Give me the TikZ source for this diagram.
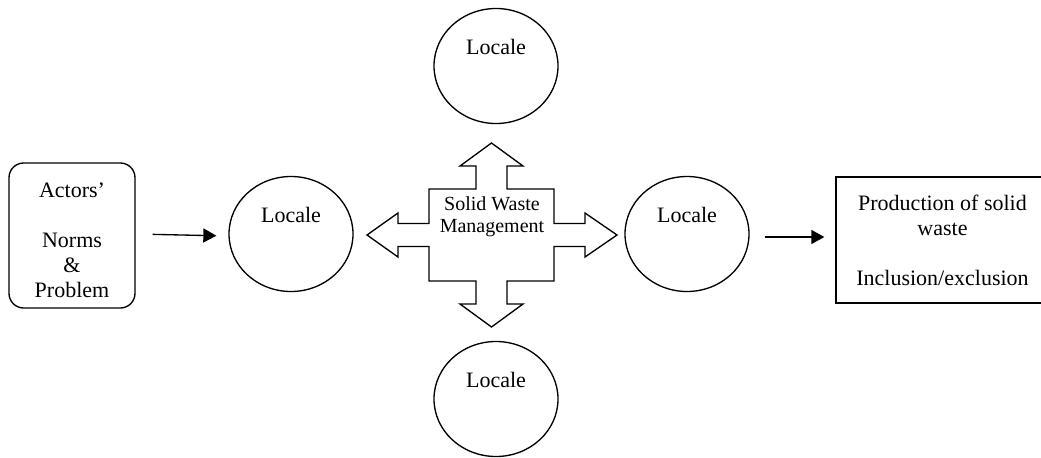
\documentclass[tikz,border=0pt]{standalone}
\usepackage{fontspec}
\setmainfont{Liberation Serif}
\usetikzlibrary{shapes.geometric,arrows.meta}
\begin{document}
\begin{tikzpicture}[x=0.75pt,y=-0.75pt,
  every node/.style={font=\fontsize{16.5}{18.75}\selectfont, inner sep=0pt},
  line/.style={line width=1pt},
  locale/.style={ellipse, draw, line width=1pt, minimum width=93pt, minimum height=86.25pt,
    label={[yshift=14.25pt]center:Locale}},
  flow/.style={line width=1pt, -{Triangle[length=9.75pt,width=10.5pt]}}
]
\useasboundingbox (0,0) rectangle (1041,457);

% actors box
\node[draw, line width=1pt, rounded corners=11pt, minimum width=94.5pt, minimum height=108.75pt] (actors) at (72,235.5) {};
\node[align=center] (actorstext) at (72,240) {Actors’\\[18.75pt]Norms\\\&\\Problem};

% the four locales
\node[locale] (lw) at (291,234) {};
\node[locale] (le) at (687,234) {};
\node[locale] (ln) at (496,66) {};
\node[locale] (ls) at (496,399) {};

% four-way arrow of solid waste management
\draw[line, line join=miter]
  (491.5,143) -- (523,166) -- (507,166) -- (507,189) -- (554,189) -- (554,223.5)
  -- (585,223.5) -- (585,213) -- (617,235) -- (585,257) -- (585,246.5) -- (554,246.5)
  -- (554,281) -- (507,281) -- (507,304) -- (523,304) -- (491.5,327) -- (460,304)
  -- (476,304) -- (476,281) -- (429,281) -- (429,246.5) -- (398,246.5) -- (398,257)
  -- (367,235) -- (398,213) -- (398,223.5) -- (429,223.5) -- (429,189) -- (476,189)
  -- (476,166) -- (460,166) -- cycle;
\node[align=center, font=\fontsize{15}{16.5}\selectfont] (swm) at (492,217) {Solid Waste\\Management};

% production box
\node[draw, line width=1pt, minimum width=159.75pt, minimum height=94.5pt, align=center] (prod) at (942.5,240)
  {Production of solid\\waste\\[18.75pt]Inclusion/exclusion};

% connectors
\draw[flow, shorten <=12.75pt, shorten >=9pt] ([yshift=1.125pt]actors.east) -- ([yshift=-1.5pt]lw.west);
\draw[flow, shorten <=11.25pt, shorten >=8.25pt] ([yshift=-2.25pt]le.east) -- ([yshift=2.25pt]prod.west);
\end{tikzpicture}
\end{document}
